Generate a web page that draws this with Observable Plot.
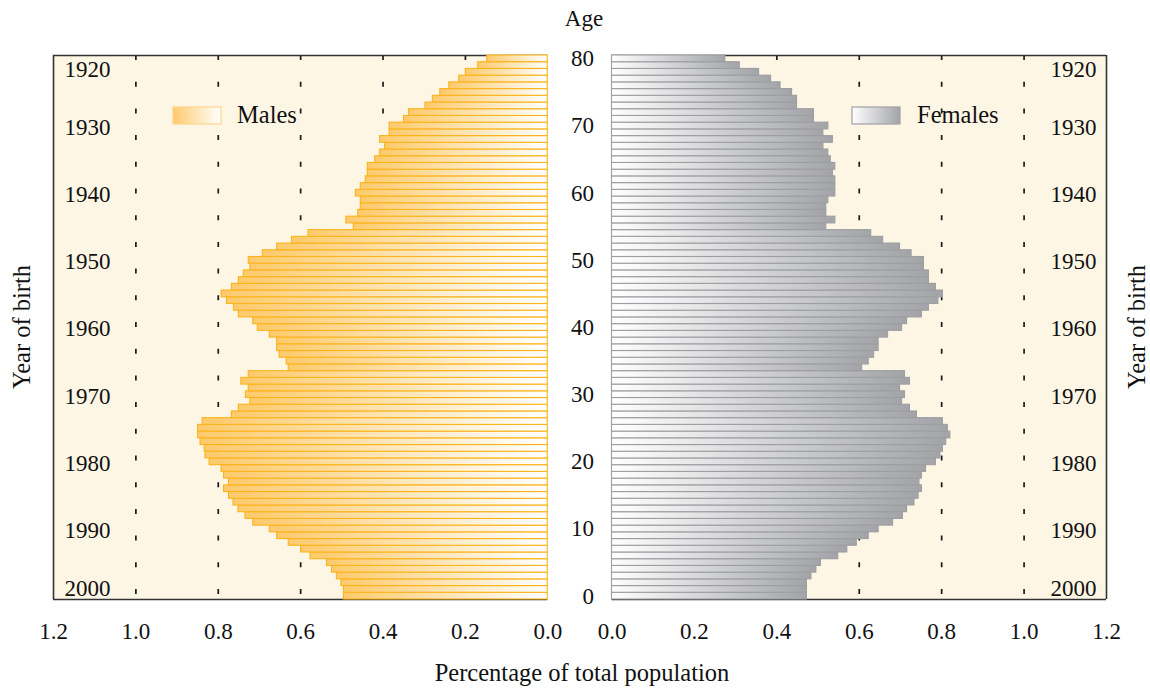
<!DOCTYPE html>
<html>
<head>
<meta charset="utf-8">
<script src="https://cdn.jsdelivr.net/npm/d3@7"></script>
<script src="https://cdn.jsdelivr.net/npm/@observablehq/plot@0.6"></script>
<style>
  body { margin: 0; background: #ffffff; }
  #wrap { position: relative; width: 1150px; height: 689px; overflow: hidden; font-family: "Liberation Serif", serif; color: #111; }
  #wrap > .panel { position: absolute; top: 0; }
  #overlay { position: absolute; left: 0; top: 0; pointer-events: none; }
</style>
</head>
<body>
<div id="wrap"></div>
<script>
// ---- data (percentage of total population by single year of age) ----
const ages = [0,1,2,3,4,5,6,7,8,9,10,11,12,13,14,15,16,17,18,19,20,21,22,23,24,25,26,27,28,29,30,
  31,32,33,34,35,36,37,38,39,40,41,42,43,44,45,46,47,48,49,50,51,52,53,54,55,56,57,58,59,60,
  61,62,63,64,65,66,67,68,69,70,71,72,73,74,75,76,77,78,79,80];
const males = [0.495,0.495,0.501,0.512,0.524,0.536,0.576,0.599,0.629,0.657,
  0.675,0.715,0.734,0.751,0.763,0.774,0.786,0.774,0.786,0.792,
  0.821,0.831,0.833,0.843,0.849,0.849,0.838,0.767,0.750,0.722,
  0.733,0.726,0.744,0.726,0.629,0.634,0.651,0.657,0.657,0.675,
  0.704,0.715,0.750,0.762,0.779,0.792,0.767,0.750,0.738,0.722,
  0.726,0.692,0.657,0.621,0.581,0.471,0.489,0.460,0.454,0.454,
  0.466,0.454,0.442,0.437,0.437,0.419,0.407,0.395,0.407,0.384,
  0.384,0.349,0.337,0.297,0.279,0.261,0.239,0.215,0.199,0.169,0.147];
const females = [0.473,0.473,0.473,0.484,0.496,0.507,0.549,0.571,0.594,0.623,
  0.647,0.682,0.706,0.716,0.734,0.744,0.752,0.746,0.752,0.762,
  0.786,0.797,0.803,0.811,0.821,0.815,0.803,0.740,0.723,0.704,
  0.711,0.699,0.723,0.711,0.607,0.623,0.636,0.647,0.647,0.670,
  0.704,0.716,0.752,0.769,0.792,0.803,0.786,0.769,0.769,0.757,
  0.757,0.727,0.699,0.658,0.629,0.520,0.542,0.520,0.520,0.525,
  0.542,0.542,0.542,0.536,0.542,0.531,0.525,0.513,0.536,0.513,
  0.525,0.490,0.490,0.449,0.449,0.437,0.409,0.386,0.357,0.310,0.275];
const ageTicks = [0,10,20,30,40,50,60,70,80];
const yearTicks = [1920,1930,1940,1950,1960,1970,1980,1990,2000];
const xTicks = [0,0.2,0.4,0.6,0.8,1.0,1.2];
const gridTicks = [0.2,0.4,0.6,0.8,1.0];
const refYear = 2000; // birth year of age 0

// ---- styling ----
const bg = "#fdf6e5";
const frameColor = "#333333";
const maleStroke = "#fbb41c";
const femaleStroke = "#9d9ea2";
const fontFamily = "'Liberation Serif', serif";
const tickFont = 23;
const titleFont = 24.5;

const rows = ages.map((a, i) => ({age: a, m: males[i], f: females[i]}));
const years = yearTicks.map(y => ({year: y, age: refYear - y}));
const yDomain = [d3.min(ages) - 0.5, d3.max(ages) + 0.5];
const xDomain = [0, d3.max(xTicks)];

const wrap = document.getElementById("wrap");

// gradient defs
const defsSvg = d3.select(wrap).append("svg").attr("width", 0).attr("height", 0)
  .style("position", "absolute");
const defs = defsSvg.append("defs");
function grad(id, c0, c1) {
  const g = defs.append("linearGradient").attr("id", id).attr("x1", 0).attr("x2", 1).attr("y1", 0).attr("y2", 0);
  g.append("stop").attr("offset", "0%").attr("stop-color", c0);
  g.append("stop").attr("offset", "100%").attr("stop-color", c1);
}
grad("gradM", "#fdca6c", "#ffffff");
grad("gradF", "#ffffff", "#a3a4a8");

const baseStyle = {fontFamily, fontSize: tickFont + "px", color: "#111", background: "transparent", overflow: "visible"};
const H = 689, MT = 55, MB = 90;

function midYears() { return years.filter(d => d.year !== d3.min(yearTicks) && d.year !== d3.max(yearTicks)); }
function topYear() { return years.filter(d => d.year === d3.min(yearTicks)); }
function botYear() { return years.filter(d => d.year === d3.max(yearTicks)); }

function yearMarks(anchor, dx, textAnchor) {
  const o = {y: "age", text: d => String(d.year), frameAnchor: anchor, dx, textAnchor, fontSize: tickFont, fill: "#111"};
  return [
    Plot.text(midYears(), {...o, dy: 1.5}),
    Plot.text(topYear(), {...o, dy: 10.5}),
    Plot.text(botYear(), {...o, dy: -7.5})
  ];
}

// ---- left panel: males ----
const left = Plot.plot({
  width: 555, height: H, marginTop: MT, marginBottom: MB, marginLeft: 53, marginRight: 7.7,
  style: baseStyle,
  x: {domain: xDomain, reverse: true},
  y: {domain: yDomain, axis: null},
  marks: [
    Plot.frame({fill: bg, stroke: null}),
    Plot.ruleX(gridTicks, {stroke: "#1a1a1a", strokeWidth: 1.7, strokeDasharray: "5,21.7"}),
    Plot.ruleX([d3.max(xTicks)], {stroke: frameColor, strokeWidth: 1.6}),
    Plot.ruleY(yDomain, {stroke: frameColor, strokeWidth: 1.6}),
    Plot.rectX(rows, {x1: 0, x2: "m", y1: d => d.age - 0.5, y2: d => d.age + 0.5,
      fill: "url(#gradM)", stroke: maleStroke, strokeWidth: 1.1}),
    Plot.axisX({ticks: xTicks, tickFormat: ".1f", tickSize: 0, tickPadding: 23, label: null, fontSize: tickFont}),
    ...yearMarks("left", 11, "start")
  ]
});
left.classList.add("panel");
left.style.left = "0px";
wrap.appendChild(left);

// ---- right panel: females ----
const right = Plot.plot({
  width: 595, height: H, marginTop: MT, marginBottom: MB, marginLeft: 56.5, marginRight: 44,
  style: baseStyle,
  x: {domain: xDomain},
  y: {domain: yDomain},
  marks: [
    Plot.frame({fill: bg, stroke: null}),
    Plot.ruleX(gridTicks, {stroke: "#1a1a1a", strokeWidth: 1.7, strokeDasharray: "5,21.7"}),
    Plot.ruleX([d3.max(xTicks)], {stroke: frameColor, strokeWidth: 1.6}),
    Plot.ruleY(yDomain, {stroke: frameColor, strokeWidth: 1.6}),
    Plot.rectX(rows, {x1: 0, x2: "f", y1: d => d.age - 0.5, y2: d => d.age + 0.5,
      fill: "url(#gradF)", stroke: femaleStroke, strokeWidth: 1.1}),
    Plot.axisX({ticks: xTicks, tickFormat: ".1f", tickSize: 0, tickPadding: 23, label: null, fontSize: tickFont}),
    Plot.axisY({ticks: ageTicks, anchor: "left", tickSize: 0, tickPadding: 18, label: null, fontSize: tickFont}),
    ...yearMarks("right", -10, "end")
  ]
});
right.classList.add("panel");
right.style.left = "555px";
wrap.appendChild(right);

// ---- overlay: titles and legends ----
const ov = d3.select(wrap).append("svg").attr("id", "overlay").attr("width", 1150).attr("height", 689)
  .style("font-family", fontFamily).style("fill", "#111");
ov.append("text").attr("x", 584).attr("y", 26).attr("text-anchor", "middle").attr("font-size", 23).text("Age");
ov.append("text").attr("x", 582).attr("y", 681).attr("text-anchor", "middle").attr("font-size", titleFont).text("Percentage of total population");
ov.append("text").attr("transform", "translate(30,327) rotate(-90)").attr("text-anchor", "middle").attr("font-size", titleFont).text("Year of birth");
ov.append("text").attr("transform", "translate(1145,327) rotate(-90)").attr("text-anchor", "middle").attr("font-size", titleFont).text("Year of birth");

// legends
ov.append("rect").attr("x", 173).attr("y", 107).attr("width", 48).attr("height", 17)
  .attr("fill", "url(#gradM)").attr("stroke", "#fdd58a").attr("stroke-width", 1.2);
ov.append("text").attr("x", 237).attr("y", 123).attr("font-size", titleFont).text("Males");
ov.append("rect").attr("x", 852).attr("y", 107).attr("width", 48).attr("height", 17)
  .attr("fill", "url(#gradF)").attr("stroke", "#a0a1a5").attr("stroke-width", 1.2);
ov.append("text").attr("x", 917).attr("y", 123).attr("font-size", titleFont).text("Females");
</script>
</body>
</html>
